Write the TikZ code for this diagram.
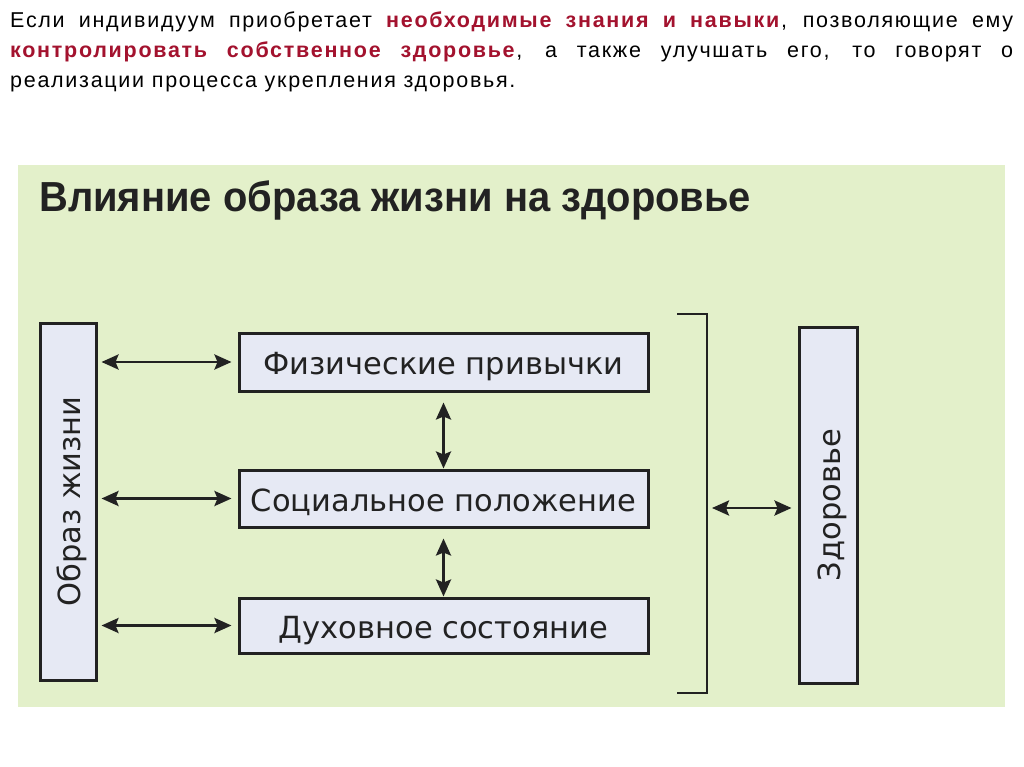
\documentclass[tikz,border=0pt]{standalone}
\usepackage{fontspec}
\setmainfont{Liberation Sans}
\newfontfamily\introfont[LetterSpace=8]{Liberation Sans}
\newfontfamily\titlefont[FakeStretch=0.95]{Liberation Sans}
\newfontfamily\diagfont{DejaVu Sans}
\usetikzlibrary{
  arrows.meta,
  positioning
}
\definecolor{panelgreen}{HTML}{E3F0CA}
\definecolor{boxblue}{HTML}{E6E9F4}
\definecolor{accentred}{HTML}{A3122E}
\definecolor{inkgray}{HTML}{222222}

\begin{document}
\begin{tikzpicture}[x=1pt, y=-1pt,
    box/.style = {shape=rectangle, draw=inkgray, line width=3pt,
      fill=boxblue, text=inkgray, inner sep=0pt,
      text height=25pt, text depth=0pt,
      font=\diagfont\fontsize{30.5}{34}\selectfont},
    tallbox/.style = {box, rotate=90},
    link/.style = {{Stealth[length=17pt,width=15pt,inset=3pt]}-{Stealth[length=17pt,width=15pt,inset=3pt]},
      draw=inkgray, line width=2.8pt}]
  \useasboundingbox (0,0) rectangle (1024,767);
  \fill[white] (0,0) rectangle (1024,767);
  % intro text
  \node[anchor=north west, inner sep=0pt, text width=1003pt, align=justify,
    font=\introfont\fontsize{21.5}{30}\selectfont] (intro) at (10,12)
    {\makebox[1003pt][s]{Если индивидуум приобретает \textcolor{accentred}{\textbf{необходимые знания и навыки}}, позволяющие ему}\\
     \makebox[1003pt][s]{\textcolor{accentred}{\textbf{контролировать собственное здоровье}}, а также улучшать его, то говорят о}\\
     реализации процесса укрепления здоровья.};
  % panel
  \fill[panelgreen] (18,165) rectangle (1005,707);
  \node[anchor=base west, inner sep=0pt, text=inkgray,
    font=\titlefont\fontsize{42}{48}\selectfont\bfseries] (title) at (39,212)
    {Влияние образа жизни на здоровье};
  % boxes
  \node[box, minimum width=409pt, minimum height=58pt] (fiz) at (443.5,362) {Физические привычки};
  \node[box, minimum width=409pt, minimum height=57pt] (soc) at (443.5,498.5) {Социальное положение};
  \node[box, minimum width=409pt, minimum height=55pt] (duh) at (443.5,625.5) {Духовное состояние};
  \node[tallbox, minimum width=357pt, minimum height=56pt] (obraz) at (68,501.5) {Образ жизни};
  \node[tallbox, minimum width=356pt, minimum height=58pt] (zdor) at (828,505) {Здоровье};
  % bracket
  \coordinate (brtop) at (677,314);
  \coordinate (brbot) at (677,693);
  \coordinate (brmid) at (707,508);
  \draw[inkgray, line width=2.8pt] (brtop) -- ++(30,0) |- (brbot);
  % links
  \foreach \n in {fiz, soc, duh}
    \draw[link, shorten <=4pt, shorten >=6pt] (obraz.south |- \n) -- (\n.west);
  \draw[link, shorten <=10pt] (fiz.south) -- (soc.north);
  \draw[link, shorten <=10pt] (soc.south) -- (duh.north);
  \draw[link, shorten <=5pt, shorten >=6pt] (brmid) -- (brmid -| zdor.north);
\end{tikzpicture}
\end{document}
